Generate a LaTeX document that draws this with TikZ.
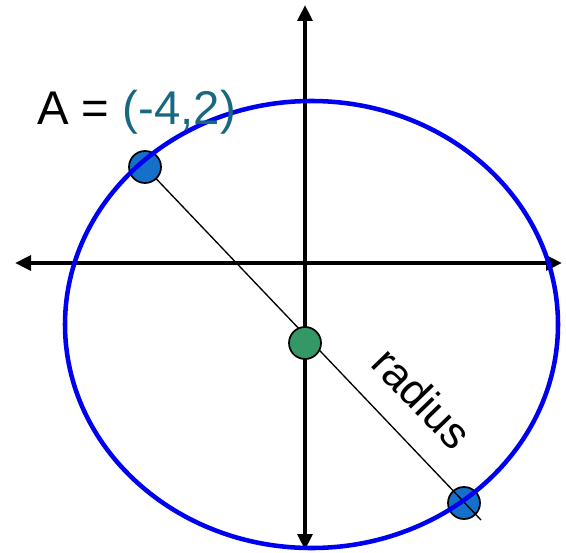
\documentclass[tikz,border=0pt]{standalone}
\usepackage{fontspec}
\setmainfont{Liberation Sans}
\usetikzlibrary{arrows.meta}
\definecolor{teal2}{RGB}{23,104,128}
\definecolor{dotblue}{RGB}{20,112,200}
\definecolor{dotgreen}{RGB}{52,152,102}
\definecolor{ringblue}{RGB}{0,0,240}
\begin{document}
\begin{tikzpicture}[x=0.75pt,y=-0.75pt,
  axis/.style={line width=3.4pt,-{Triangle[length=12pt,width=11pt]}},
  dot/.style={circle,draw=black,line width=1.3pt,minimum size=24pt,inner sep=0pt},
  ring/.style={draw=ringblue,line width=3.4pt},
  lbl/.style={font=\fontsize{35.5}{42}\selectfont,inner sep=0pt}]
\useasboundingbox (0,0) rectangle (566,552);
% axes
\coordinate (o) at (305,263);
\coordinate (top) at (305,5);
\coordinate (bot) at (305,550);
\coordinate (lft) at (15,263);
\coordinate (rgt) at (562,263);
\draw[axis] (o) -- (top);
\draw[axis] (o) -- (bot);
\draw[axis] (o) -- (lft);
\draw[axis] (o) -- (rgt);
% dots and radius line
\node[dot,fill=dotblue] (b) at (464,503) {};
\coordinate (e) at (481,520);
\node[coordinate] (ac) at (145,167) {};
\draw[line width=1pt] (ac) -- (e);
\node[dot,fill=dotblue] (a) at (145,167) {};
\node[dot,fill=dotgreen] (c) at (305,343) {};
% circle
\draw[ring] (311.5,324.5) ellipse [x radius=246.5, y radius=223.5];
% labels
\node[lbl,anchor=base west] (t1) at (37,125) {A = \textcolor{teal2}{(-4,2)}};
\node[lbl,font=\fontsize{33}{40}\selectfont,rotate=-46] (t2) at (422,398) {radius};
\end{tikzpicture}
\end{document}
